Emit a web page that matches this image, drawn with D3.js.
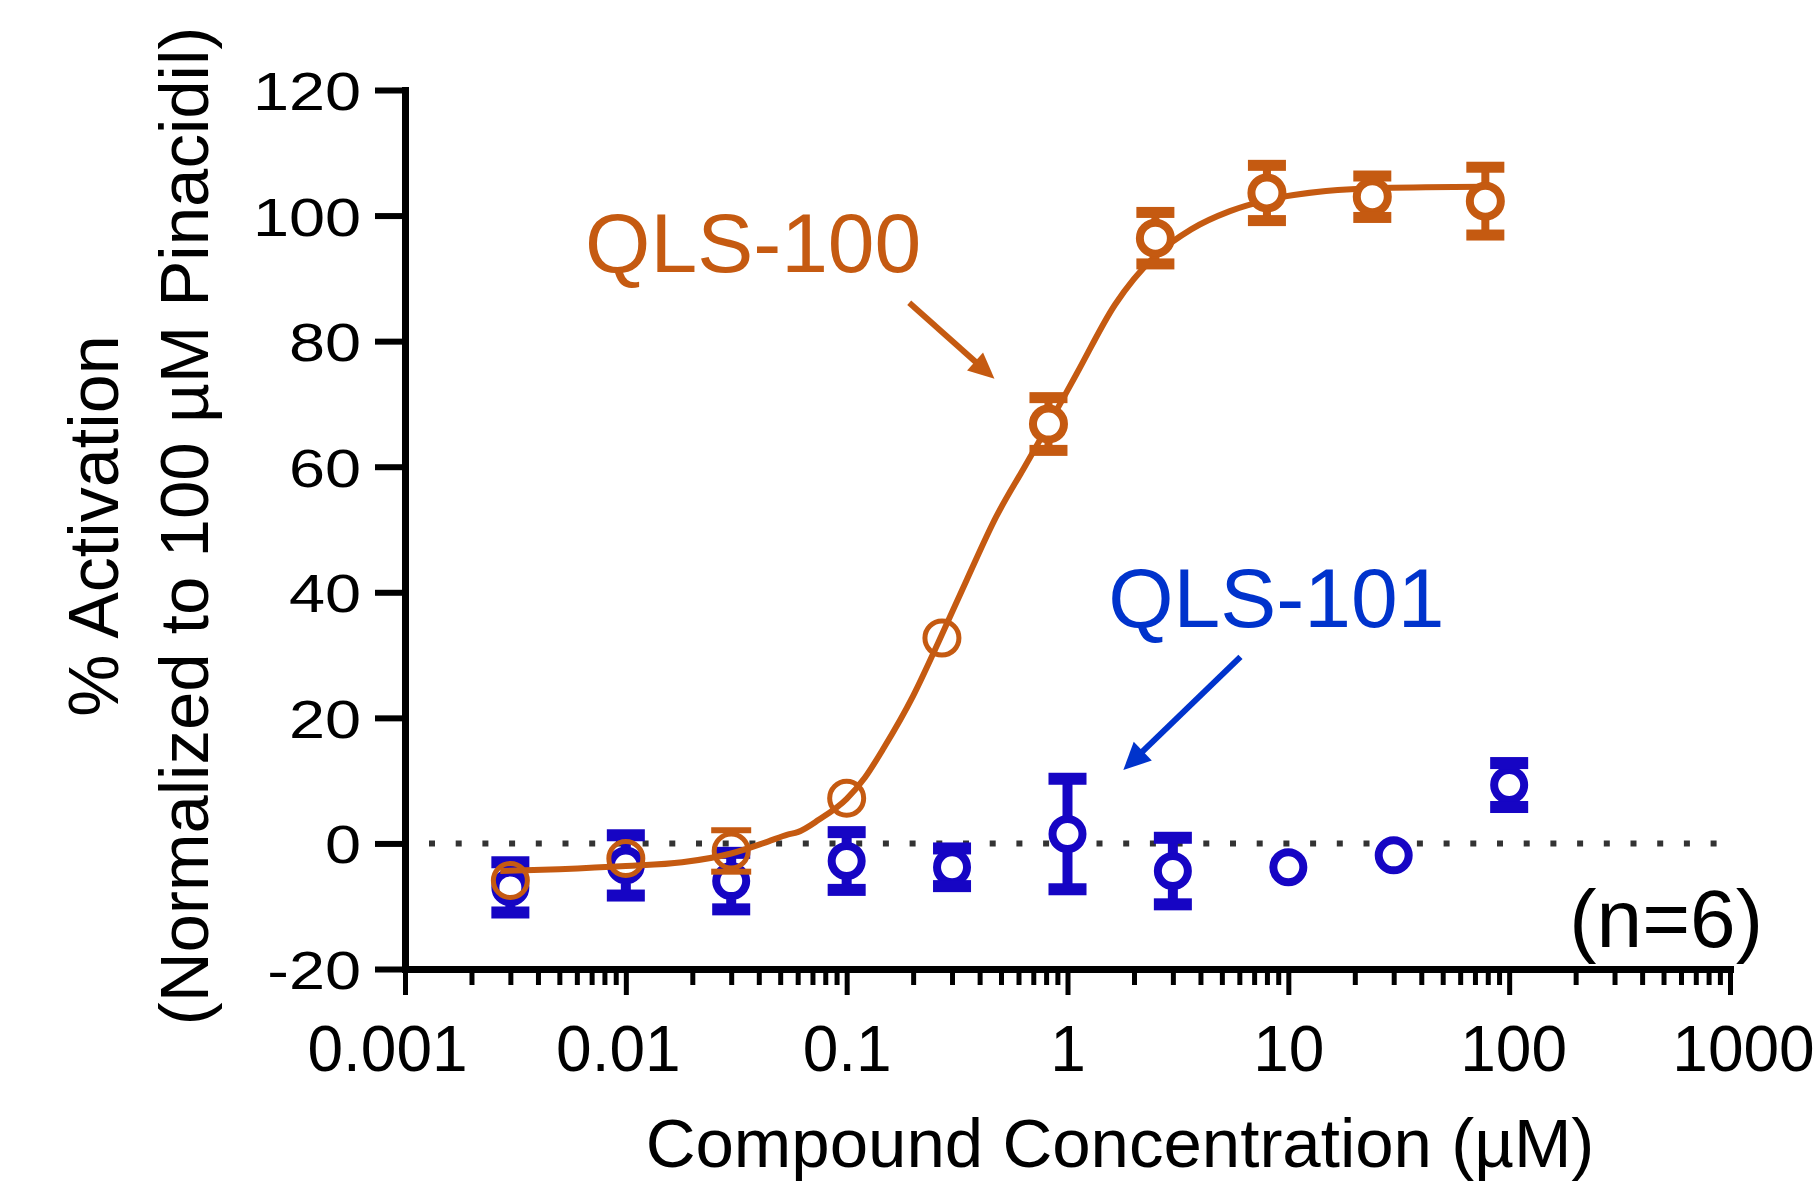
<!DOCTYPE html>
<html><head><meta charset="utf-8">
<script src="https://cdn.jsdelivr.net/npm/d3@7"></script>
<style>
html,body{margin:0;padding:0;background:#fff;}
svg{display:block;}
text{font-family:"Liberation Sans", Arial, sans-serif;}
</style></head><body>
<svg id="chart" width="1816" height="1184"></svg>
<script>
// ---------- data ----------
const xTickValues = [0.001, 0.01, 0.1, 1, 10, 100, 1000];
const xTickLabels = ["0.001", "0.01", "0.1", "1", "10", "100", "1000"];
const yTickValues = [-20, 0, 20, 40, 60, 80, 100, 120];
const yTickLabels = ["-20", "0", "20", "40", "60", "80", "100", "120"];

// QLS-100 (orange) measured points: concentration (µM), mean %, error
const qls100Conc = [0.003, 0.01, 0.03, 0.1, 0.27, 0.82, 2.5, 8, 24, 78];
const qls100Mean = [-5.9, -2.4, -1.2, 7.2, 32.7, 66.8, 96.4, 103.6, 103.0, 102.3];
const qls100Err  = [0, 0, 3.3, 0, 0, 4.2, 4.1, 4.4, 3.3, 5.4];

// QLS-100 fitted curve
const qls100FitConc  = [0.0027, 0.005, 0.01, 0.018, 0.03, 0.044, 0.054, 0.06, 0.075, 0.1, 0.121, 0.146, 0.2, 0.26, 0.35, 0.475, 0.64, 0.83, 1.1, 1.64, 2.5, 3.63, 5.44, 8.1, 14.8, 26.9, 78];
const qls100FitValue = [-4.4, -4.1, -3.6, -3.0, -1.6, 0.3, 1.4, 1.8, 3.8, 7.1, 10.5, 15.0, 23.5, 32.0, 42, 52, 60, 67, 74.8, 85.8, 93.6, 97.8, 100.7, 102.5, 103.9, 104.4, 104.6];

// QLS-101 (blue) measured points
const qls101Conc = [0.003, 0.01, 0.03, 0.1, 0.3, 1, 3, 10, 30, 100];
const qls101Mean = [-7.0, -3.5, -6.0, -2.8, -3.8, 1.5, -4.4, -3.8, -1.9, 9.3];
const qls101Err  = [4.0, 4.8, 4.5, 4.6, 3.0, 8.8, 5.3, 1.5, 0.8, 3.5];

// ---------- layout ----------
const svg = d3.select("#chart");
const ORANGE = "#C55A11", BLUE_MARK = "#1605C4", BLUE_TXT = "#0033CC";
const x = d3.scaleLog().domain([0.001, 1000]).range([405, 1730]);
const y = d3.scaleLinear().domain([-20, 120]).range([969, 90]);
const xLabelNudge = [-18, -8, 0, 0, 0, 4, 13];

// zero dotted line
svg.append("line")
  .attr("x1", x(0.001) + 24).attr("x2", x(1000))
  .attr("y1", y(0)).attr("y2", y(0))
  .attr("stroke", "#333").attr("stroke-width", 6)
  .attr("stroke-dasharray", "6 20.7");

function drawPoints(xs, ms, es, styleFn) {
  const g = svg.append("g");
  xs.forEach((c, i) => {
    const s = styleFn(ms[i]);
    const cx = x(c), cy = y(ms[i]);
    g.append("circle").attr("cx", cx).attr("cy", cy).attr("r", s.r)
      .attr("fill", s.fill).attr("stroke", s.color).attr("stroke-width", s.sw);
    if (es[i] > 0) {
      const top = y(ms[i] + es[i]), bot = y(ms[i] - es[i]);
      if (cy - top < s.r) return; // bar hidden behind the symbol
      const edge = s.r + s.sw / 2 - 1;
      if (cy - top > edge) {
        g.append("line").attr("x1", cx).attr("x2", cx).attr("y1", top).attr("y2", cy - edge)
          .attr("stroke", s.color).attr("stroke-width", s.stem);
        g.append("line").attr("x1", cx).attr("x2", cx).attr("y1", bot).attr("y2", cy + edge)
          .attr("stroke", s.color).attr("stroke-width", s.stem);
      }
      [top, bot].forEach(yy => {
        g.append("rect").attr("x", cx - s.capW / 2).attr("y", yy - s.capT / 2)
          .attr("width", s.capW).attr("height", s.capT).attr("fill", s.color);
      });
    }
  });
}

// blue series
drawPoints(qls101Conc, qls101Mean, qls101Err, () => ({
  r: 15, sw: 8, fill: "#fff", color: BLUE_MARK, capW: 38, capT: 12, stem: 10
}));

// orange fitted curve
svg.append("path")
  .datum(qls100FitConc.map((c, i) => [c, qls100FitValue[i]]))
  .attr("fill", "none").attr("stroke", ORANGE).attr("stroke-width", 6)
  .attr("d", d3.line().x(d => x(d[0])).y(d => y(d[1])).curve(d3.curveMonotoneX));

// orange points
drawPoints(qls100Conc, qls100Mean, qls100Err, m => m < 40
  ? { r: 17, sw: 5, fill: "none", color: ORANGE, capW: 40, capT: 6, stem: 4 }
  : { r: 15.5, sw: 8, fill: "#fff", color: ORANGE, capW: 38, capT: 11, stem: 8 });

// ---------- axes ----------
const gy = svg.append("g").attr("transform", `translate(${x(0.001)},0)`)
  .call(d3.axisLeft(y).tickValues(yTickValues).tickFormat((d, i) => yTickLabels[i])
    .tickSize(30).tickSizeOuter(0));
gy.select(".domain").attr("stroke", "#000").attr("stroke-width", 7).attr("stroke-linecap", "square");
gy.selectAll(".tick line").attr("stroke", "#000").attr("stroke-width", 6);
gy.selectAll(".tick text")
  .attr("x", 0).attr("dy", "0.36em")
  .attr("transform", "translate(-44,0) scale(1.2,1)")
  .attr("font-size", 54).attr("fill", "#000").attr("text-anchor", "end")
  .attr("font-family", "Liberation Sans, Arial, sans-serif");

const minorTicks = x.ticks().filter(v => !xTickValues.some(t => Math.abs(t - v) / t < 1e-6));
const gxm = svg.append("g").attr("transform", `translate(0,${y(-20)})`)
  .call(d3.axisBottom(x).tickValues(minorTicks).tickFormat("").tickSize(16).tickSizeOuter(0));
gxm.select(".domain").remove();
gxm.selectAll(".tick line").attr("stroke", "#000").attr("stroke-width", 5);

const gx = svg.append("g").attr("transform", `translate(0,${y(-20)})`)
  .call(d3.axisBottom(x).tickValues(xTickValues).tickFormat((d, i) => xTickLabels[i])
    .tickSize(26).tickSizeOuter(0));
gx.select(".domain").attr("stroke", "#000").attr("stroke-width", 7).attr("stroke-linecap", "square");
gx.selectAll(".tick line").attr("stroke", "#000").attr("stroke-width", 5);
gx.selectAll(".tick text")
  .attr("y", 102).attr("dy", null)
  .attr("x", (d, i) => xLabelNudge[i])
  .attr("font-size", 64).attr("fill", "#000")
  .attr("font-family", "Liberation Sans, Arial, sans-serif");

// axis titles
svg.append("text").attr("x", 1120).attr("y", 1167)
  .attr("text-anchor", "middle").attr("font-size", 69).attr("fill", "#000")
  .text("Compound Concentration (µM)");
const yt = svg.append("g").attr("transform", "translate(0,526)");
yt.append("text").attr("transform", "translate(118,0) rotate(-90)")
  .attr("text-anchor", "middle").attr("font-size", 70).attr("fill", "#000")
  .text("% Activation");
yt.append("text").attr("transform", "translate(208,0) rotate(-90)")
  .attr("text-anchor", "middle").attr("font-size", 69).attr("fill", "#000")
  .text("(Normalized to 100 µM Pinacidil)");

// ---------- annotations ----------
function arrow(x1, y1, x2, y2, color, sw, hl, hw) {
  const dx = x2 - x1, dy = y2 - y1, L = Math.hypot(dx, dy);
  const ux = dx / L, uy = dy / L;
  const bx = x2 - ux * hl, by = y2 - uy * hl;
  svg.append("line").attr("x1", x1).attr("y1", y1).attr("x2", bx + ux * 2).attr("y2", by + uy * 2)
    .attr("stroke", color).attr("stroke-width", sw);
  svg.append("polygon")
    .attr("points", [[x2, y2], [bx - uy * hw, by + ux * hw], [bx + uy * hw, by - ux * hw]].map(p => p.join(",")).join(" "))
    .attr("fill", color);
}

svg.append("text").attr("x", x(0.00654)).attr("y", y(91))
  .attr("font-size", 84).attr("fill", ORANGE).text("QLS-100");
arrow(x(0.192), y(86.1), x(0.467), y(74.0), ORANGE, 6, 26, 12);

svg.append("text").attr("x", x(1.53)).attr("y", y(34.5))
  .attr("font-size", 84).attr("fill", BLUE_TXT).text("QLS-101");
arrow(x(6.07), y(29.7), x(1.79), y(11.7), BLUE_TXT, 6, 27, 13);

svg.append("text").attr("x", 1763).attr("y", y(-16.5))
  .attr("text-anchor", "end").attr("font-size", 82).attr("fill", "#000").text("(n=6)");
</script>
</body></html>
